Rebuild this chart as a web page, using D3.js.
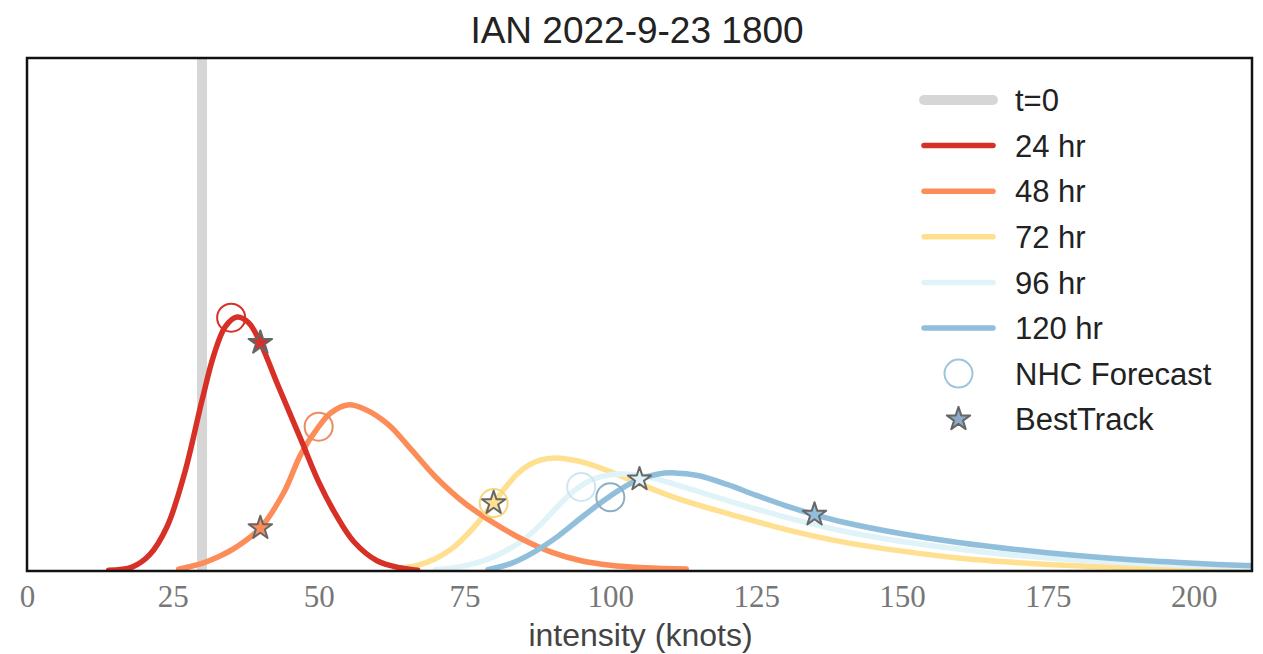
<!DOCTYPE html>
<html><head><meta charset="utf-8">
<script src="https://cdn.jsdelivr.net/npm/d3@7"></script>
<style>body{margin:0;background:#fff}</style>
</head><body><svg id="c" width="1263" height="654"></svg>
<script>
// ---------- data ----------
const titleText = "IAN 2022-9-23 1800";
const xLabel = "intensity (knots)";
const xTicks = [0, 25, 50, 75, 100, 125, 150, 175, 200];
const t0Intensity = 30;
const seriesNames = ["24 hr", "48 hr", "72 hr", "96 hr", "120 hr"];
const seriesColors = ["#d73027", "#fc8d59", "#fee090", "#e0f3f8", "#91bfdb"];

const knots24 = [14, 18, 21, 24, 27, 30, 32, 34, 36, 38, 40, 43, 47, 50, 53, 56, 60, 64, 67];
const dens24  = [0.0001, 0.0006, 0.0025, 0.0069, 0.0152, 0.0266, 0.0336, 0.0381, 0.0396, 0.0387, 0.0356, 0.0290, 0.0204, 0.0139, 0.0087, 0.0046, 0.0016, 0.0005, 0.0001];

const knots48 = [26, 30, 33, 36, 40, 44, 47, 50, 52, 55, 58, 62, 66, 70, 75, 80, 85, 90, 95, 100, 106, 113];
const dens48  = [0.0003, 0.0012, 0.0023, 0.0038, 0.0067, 0.0122, 0.0183, 0.0225, 0.0246, 0.0259, 0.0252, 0.0228, 0.0188, 0.0147, 0.0106, 0.0075, 0.0049, 0.0029, 0.0016, 0.0009, 0.0005, 0.0003];

const knots72 = [63, 67, 70, 73, 76, 78, 80, 82, 84, 86, 88, 90, 93, 96, 100, 105, 110, 115, 120, 130, 140, 150, 160, 170, 180, 190, 200, 210];
const dens72  = [0.0003, 0.0009, 0.0019, 0.0036, 0.0062, 0.0083, 0.0106, 0.0130, 0.0151, 0.0165, 0.0173, 0.0176, 0.0174, 0.0168, 0.0155, 0.0136, 0.0118, 0.0103, 0.0090, 0.0065, 0.0045, 0.0031, 0.0020, 0.0013, 0.0008, 0.0005, 0.0003, 0.0002];

const knots96 = [70, 75, 80, 85, 88, 91, 93, 95, 97, 100, 103, 106, 110, 115, 120, 130, 140, 150, 160, 170, 180, 190, 200, 210];
const dens96  = [0.0002, 0.0008, 0.0022, 0.0048, 0.0072, 0.0101, 0.0119, 0.0133, 0.0143, 0.0150, 0.0151, 0.0148, 0.0138, 0.0124, 0.0110, 0.0084, 0.0062, 0.0046, 0.0034, 0.0024, 0.0017, 0.0012, 0.0008, 0.0006];

const knots120 = [79, 83, 87, 91, 95, 98, 100, 102, 105, 108, 111, 115, 120, 125, 130, 135, 140, 150, 160, 170, 180, 190, 200, 210];
const dens120  = [0.0002, 0.0012, 0.0030, 0.0054, 0.0083, 0.0104, 0.0117, 0.0129, 0.0143, 0.0151, 0.0153, 0.0149, 0.0135, 0.0118, 0.0102, 0.0088, 0.0076, 0.0058, 0.0044, 0.0033, 0.0024, 0.0017, 0.0012, 0.0008];

const nhcKnots = [35, 50, 80, 95, 100];
const nhcDens  = [0.0395, 0.0225, 0.0106, 0.0131, 0.0115];
const btKnots  = [40, 40, 80, 105, 135];
const btDens   = [0.0356, 0.0067, 0.0106, 0.0143, 0.0088];

// ---------- layout ----------
const L = 27, R = 1252, T = 58, B = 571;
const svg = d3.select("#c");
const x = d3.scaleLinear().domain([0, 210]).range([L, R]);
const y = d3.scaleLinear().domain([0, 0.08]).range([B, T]);

svg.append("defs").append("clipPath").attr("id", "clip")
  .append("rect").attr("x", L).attr("y", T).attr("width", R - L).attr("height", B - T);

const plot = svg.append("g").attr("clip-path", "url(#clip)");

// t=0 line
plot.append("line")
  .attr("x1", x(t0Intensity)).attr("x2", x(t0Intensity))
  .attr("y1", T).attr("y2", B)
  .attr("stroke", "#d6d6d6").attr("stroke-width", 10);

const curves = [
  {k: knots24, d: dens24},
  {k: knots48, d: dens48},
  {k: knots72, d: dens72},
  {k: knots96, d: dens96},
  {k: knots120, d: dens120}
];
const line = d3.line().x(p => x(p[0])).y(p => y(p[1])).curve(d3.curveCatmullRom.alpha(0.5));
const drawOrder = [2, 3, 1, 0, 4];
drawOrder.forEach(i => {
  const pts = curves[i].k.map((v, j) => [v, curves[i].d[j]]);
  plot.append("path").attr("d", line(pts))
    .attr("fill", "none").attr("stroke", seriesColors[i])
    .attr("stroke-width", 5.5).attr("stroke-linecap", "round").attr("stroke-linejoin", "round");
});

// NHC circles
const circleStroke = ["#d73027", "#f08a60", "#f5d77e", "#cfe6ef", "#8eaec6"];
nhcKnots.forEach((k, i) => {
  plot.append("circle").attr("cx", x(k)).attr("cy", y(nhcDens[i])).attr("r", 14)
    .attr("fill", "none").attr("stroke", circleStroke[i]).attr("stroke-width", 2);
});
// Best track stars
const star = d3.symbol().type(d3.symbolStar).size(170);
btKnots.forEach((k, i) => {
  plot.append("path").attr("d", star())
    .attr("transform", `translate(${x(k)},${y(btDens[i])})`)
    .attr("fill", seriesColors[i]).attr("stroke", "#666").attr("stroke-width", 2)
    .attr("stroke-linejoin", "round");
});

// frame
svg.append("rect").attr("x", L).attr("y", T).attr("width", R - L).attr("height", B - T)
  .attr("fill", "none").attr("stroke", "#111").attr("stroke-width", 2.5);

// x tick labels
const xAxis = d3.axisBottom(x).tickValues(xTicks).tickSize(0).tickPadding(14);
const ax = svg.append("g").attr("transform", `translate(0,${B})`).call(xAxis);
ax.select(".domain").remove();
ax.selectAll("text").attr("font-family", "'Liberation Serif', serif").attr("font-size", 31)
  .attr("fill", "#777");

// axis label
svg.append("text").attr("x", (L + R) / 2 + 1).attr("y", 646).attr("text-anchor", "middle")
  .attr("font-family", "'Liberation Sans', sans-serif").attr("font-size", 32).attr("fill", "#444")
  .text(xLabel);

// title
svg.append("text").attr("x", 637).attr("y", 43).attr("text-anchor", "middle")
  .attr("font-family", "'Liberation Sans', sans-serif").attr("font-size", 37).attr("fill", "#222")
  .text(titleText);

// legend
const legY0 = 100, legDy = 45.6, lx1 = 924, lx2 = 993, tx = 1015;
const leg = svg.append("g");
const legItems = [{label: "t=0", color: "#d6d6d6", w: 10}]
  .concat(seriesNames.map((n, i) => ({label: n, color: seriesColors[i], w: 5.5})));
legItems.forEach((it, i) => {
  const yy = legY0 + i * legDy;
  leg.append("line").attr("x1", lx1).attr("x2", lx2).attr("y1", yy).attr("y2", yy)
    .attr("stroke", it.color).attr("stroke-width", it.w).attr("stroke-linecap", "round");
  leg.append("text").attr("x", tx).attr("y", yy).attr("dy", "0.36em")
    .attr("font-family", "'Liberation Sans', sans-serif").attr("font-size", 31).attr("fill", "#222")
    .text(it.label);
});
const yC = legY0 + 6 * legDy, yS = legY0 + 7 * legDy;
leg.append("circle").attr("cx", (lx1 + lx2) / 2).attr("cy", yC).attr("r", 14)
  .attr("fill", "none").attr("stroke", "#9ec5dc").attr("stroke-width", 2);
leg.append("text").attr("x", tx).attr("y", yC).attr("dy", "0.36em")
  .attr("font-family", "'Liberation Sans', sans-serif").attr("font-size", 31).attr("fill", "#222")
  .text("NHC Forecast");
leg.append("path").attr("d", star()).attr("transform", `translate(${(lx1 + lx2) / 2},${yS})`)
  .attr("fill", "#8eaac6").attr("stroke", "#666").attr("stroke-width", 2).attr("stroke-linejoin", "round");
leg.append("text").attr("x", tx).attr("y", yS).attr("dy", "0.36em")
  .attr("font-family", "'Liberation Sans', sans-serif").attr("font-size", 31).attr("fill", "#222")
  .text("BestTrack");
</script></body></html>
